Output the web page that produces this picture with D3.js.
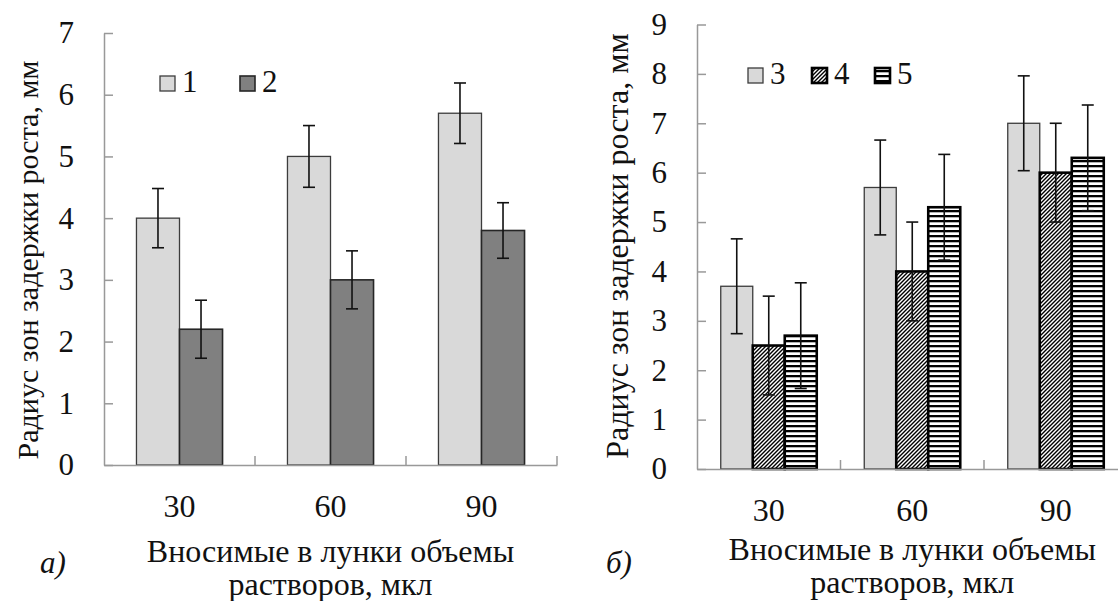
<!DOCTYPE html>
<html lang="ru">
<head>
<meta charset="UTF-8">
<title>Радиус зон задержки роста</title>
<script src="https://cdn.jsdelivr.net/npm/d3@7"></script>
<style>
    body { margin: 0; background: #fff; }
    svg text { font-family: "Liberation Serif", "Times New Roman", serif; }
</style>
</head>
<body>
<svg width="1118" height="601"></svg>
<script>
    // данные
    var volumes = ["30", "60", "90"];

    // график а)
    var seriesA = ["1", "2"];
    var valuesA1 = [4.0, 5.0, 5.7];
    var errorsA1 = [0.48, 0.5, 0.49];
    var valuesA2 = [2.2, 3.0, 3.8];
    var errorsA2 = [0.47, 0.47, 0.45];

    // график б)
    var seriesB = ["3", "4", "5"];
    var valuesB3 = [3.7, 5.7, 7.0];
    var errorsB3 = [0.96, 0.96, 0.96];
    var valuesB4 = [2.5, 4.0, 6.0];
    var errorsB4 = [1.0, 1.0, 1.0];
    var valuesB5 = [2.7, 5.3, 6.3];
    var errorsB5 = [1.07, 1.07, 1.07];

    var yTitle = "Радиус зон задержки роста, мм";
    var xTitle = ["Вносимые в лунки объемы", "растворов, мкл"];

    var svg = d3.select("svg");
    var defs = svg.append("defs");

    // косая штриховка
    var diag = defs.append("pattern")
        .attr("id", "diag")
        .attr("patternUnits", "userSpaceOnUse")
        .attr("width", 4).attr("height", 4);
    diag.append("rect").attr("width", 4).attr("height", 4).attr("fill", "#fff");
    diag.append("path")
        .attr("d", "M-1,1 l2,-2 M0,4 l4,-4 M3,5 l2,-2")
        .attr("stroke", "#000").attr("stroke-width", 1.4);

    // горизонтальная штриховка
    var horiz = defs.append("pattern")
        .attr("id", "horiz")
        .attr("patternUnits", "userSpaceOnUse")
        .attr("width", 5).attr("height", 5);
    horiz.append("rect").attr("width", 5).attr("height", 5).attr("fill", "#fff");
    horiz.append("rect").attr("y", 0).attr("width", 5).attr("height", 2.3).attr("fill", "#000");

    var styles = {
        "1": { fill: "#d9d9d9", stroke: "#3c3c3c", sw: 1.3 },
        "2": { fill: "#808080", stroke: "#262626", sw: 1.6 },
        "3": { fill: "#d9d9d9", stroke: "#3c3c3c", sw: 1.3 },
        "4": { fill: "url(#diag)", stroke: "#000", sw: 2.6 },
        "5": { fill: "url(#horiz)", stroke: "#000", sw: 2.6 }
    };

    function drawChart(cfg) {
        var g = svg.append("g");

        var x = d3.scaleBand()
            .domain(volumes)
            .range([cfg.left, cfg.right])
            .paddingInner(cfg.pad)
            .paddingOuter(cfg.pad / 2);

        var xs = d3.scaleBand()
            .domain(cfg.series.map(function (s) { return s.name; }))
            .range([0, x.bandwidth()]);

        var y = d3.scaleLinear()
            .domain([0, cfg.yMax])
            .range([cfg.bottom, cfg.top]);

        // ось Y
        var yAxis = g.append("g")
            .attr("transform", "translate(" + cfg.left + ",0)")
            .call(d3.axisLeft(y).ticks(cfg.yMax).tickSizeInner(-9).tickSizeOuter(0).tickPadding(30));
        yAxis.attr("font-family", null);
        yAxis.select(".domain").attr("stroke", "#999").attr("stroke-width", 1.5);
        yAxis.selectAll(".tick line").attr("stroke", "#999").attr("stroke-width", 1.5);
        yAxis.selectAll(".tick text")
            .attr("font-size", 31).attr("fill", "#111");

        // столбцы
        cfg.series.forEach(function (s) {
            var st = styles[s.name];
            var gs = g.append("g");
            gs.selectAll("rect")
                .data(s.values)
                .join("rect")
                .attr("x", function (d, i) { return x(volumes[i]) + xs(s.name); })
                .attr("y", function (d) { return y(d); })
                .attr("width", xs.bandwidth())
                .attr("height", function (d) { return y(0) - y(d); })
                .attr("fill", st.fill)
                .attr("stroke", st.stroke)
                .attr("stroke-width", st.sw);
        });

        // планки погрешностей
        cfg.series.forEach(function (s) {
            var ge = g.append("g").attr("stroke", "#111").attr("stroke-width", 1.6);
            s.values.forEach(function (v, i) {
                var cx = x(volumes[i]) + xs(s.name) + xs.bandwidth() / 2;
                var e = s.errors[i];
                ge.append("line")
                    .attr("x1", cx).attr("x2", cx)
                    .attr("y1", y(v + e)).attr("y2", y(v - e));
                ge.append("line")
                    .attr("x1", cx - 6).attr("x2", cx + 6)
                    .attr("y1", y(v + e)).attr("y2", y(v + e));
                ge.append("line")
                    .attr("x1", cx - 6).attr("x2", cx + 6)
                    .attr("y1", y(v - e)).attr("y2", y(v - e));
            });
        });

        // ось X
        var xAxis = g.append("g")
            .attr("transform", "translate(0," + cfg.bottom + ")")
            .call(d3.axisBottom(x).tickSize(0).tickPadding(cfg.xPad));
        xAxis.attr("font-family", null);
        xAxis.select(".domain").attr("stroke", "#999").attr("stroke-width", 1.5);
        xAxis.selectAll(".tick text")
            .attr("font-size", 32).attr("fill", "#111");
        // засечки между группами
        volumes.forEach(function (v) {
            var bx = x(v) + x.bandwidth() + x.step() * cfg.pad / 2;
            g.append("line")
                .attr("x1", bx).attr("x2", bx)
                .attr("y1", cfg.bottom).attr("y2", cfg.bottom - 9)
                .attr("stroke", "#999").attr("stroke-width", 1.5);
        });

        // подпись оси Y
        g.append("text")
            .attr("transform", "translate(" + cfg.yTitleX + "," + cfg.yTitleY + ") rotate(-90)")
            .attr("text-anchor", "middle")
            .attr("dy", "0.35em")
            .attr("font-size", cfg.yTitleSize)
            .attr("fill", "#111")
            .text(yTitle);

        // подпись оси X
        var cx = (cfg.left + cfg.right) / 2;
        g.append("text")
            .attr("x", cx).attr("y", cfg.xTitleY)
            .attr("text-anchor", "middle")
            .attr("font-size", 32)
            .attr("fill", "#111")
            .text(xTitle[0]);
        g.append("text")
            .attr("x", cx).attr("y", cfg.xTitleY + 33)
            .attr("text-anchor", "middle")
            .attr("font-size", 32)
            .attr("fill", "#111")
            .text(xTitle[1]);

        // буква панели
        g.append("text")
            .attr("x", cfg.tagX).attr("y", 573)
            .attr("font-style", "italic")
            .attr("font-size", 31)
            .attr("fill", "#111")
            .text(cfg.tag);

        // легенда
        var lg = g.append("g");
        cfg.series.forEach(function (s, i) {
            var st = styles[s.name];
            var lx = cfg.legendX[i];
            lg.append("rect")
                .attr("x", lx).attr("y", cfg.legendY)
                .attr("width", 15).attr("height", 15)
                .attr("fill", st.fill)
                .attr("stroke", st.stroke)
                .attr("stroke-width", st.sw);
            lg.append("text")
                .attr("x", lx + 22).attr("y", cfg.legendY + 16)
                .attr("font-size", 31)
                .attr("fill", "#111")
                .text(s.name);
        });
    }

    drawChart({
        left: 104, right: 557, top: 33, bottom: 465, yMax: 7, pad: 0.43, xPad: 29,
        series: [
            { name: seriesA[0], values: valuesA1, errors: errorsA1 },
            { name: seriesA[1], values: valuesA2, errors: errorsA2 }
        ],
        yTitleX: 27, yTitleY: 260, yTitleSize: 30,
        xTitleY: 562, tag: "а)", tagX: 40,
        legendX: [160, 240], legendY: 76
    });

    drawChart({
        left: 697, right: 1127.5, top: 24.5, bottom: 469, yMax: 9, pad: 0.331, xPad: 29,
        series: [
            { name: seriesB[0], values: valuesB3, errors: errorsB3 },
            { name: seriesB[1], values: valuesB4, errors: errorsB4 },
            { name: seriesB[2], values: valuesB5, errors: errorsB5 }
        ],
        yTitleX: 617, yTitleY: 246, yTitleSize: 32,
        xTitleY: 560, tag: "б)", tagX: 606,
        legendX: [748, 812, 875], legendY: 68
    });
</script>
</body>
</html>
